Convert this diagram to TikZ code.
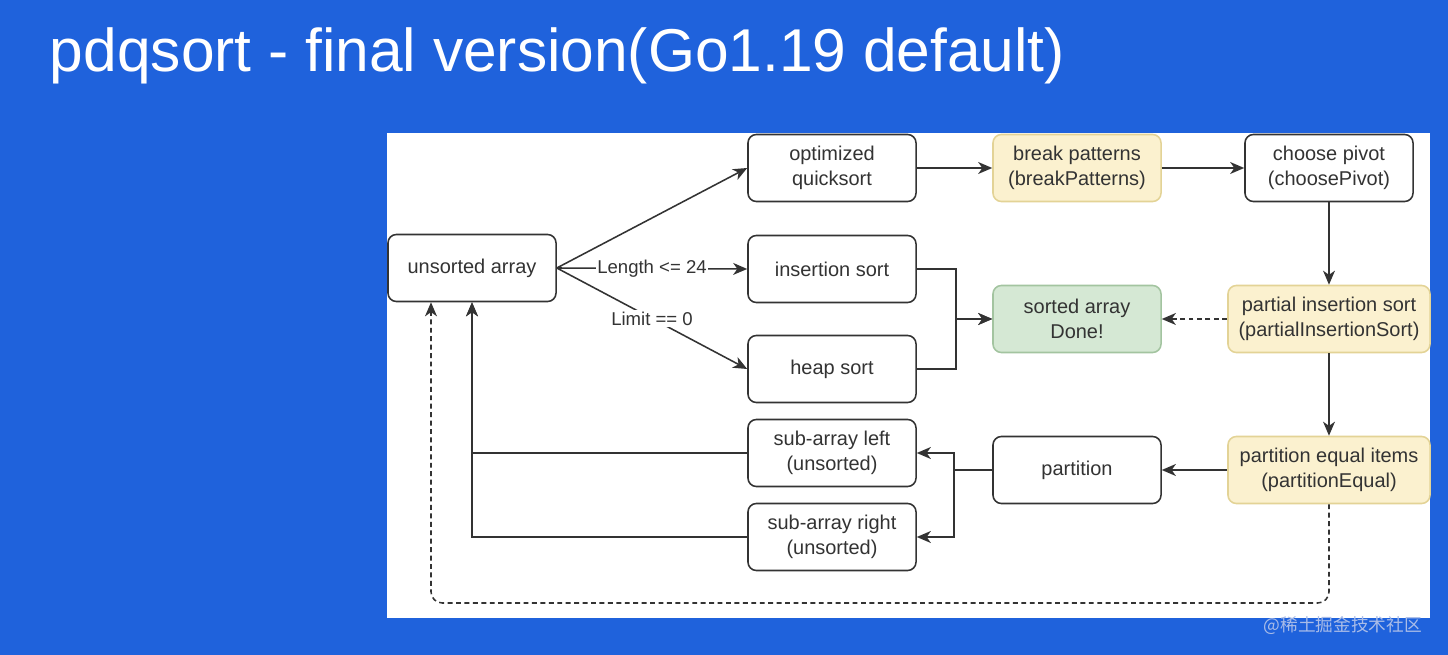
\documentclass[tikz,border=0pt]{standalone}
\usepackage{fontspec}
\setmainfont{Liberation Sans}
\newfontfamily\cjkfont{Noto Sans CJK SC}
\usetikzlibrary{arrows.meta,calc}
\definecolor{bg}{HTML}{1F62DC}
\definecolor{linec}{HTML}{333333}
\definecolor{txt}{HTML}{333333}
\definecolor{yelfill}{HTML}{FBF1CF}
\definecolor{yelline}{HTML}{E3D396}
\definecolor{grnfill}{HTML}{D5E8D4}
\definecolor{grnline}{HTML}{A3C4A0}
\definecolor{wm}{HTML}{A9BCE8}
\begin{document}
\begin{tikzpicture}[x=0.025cm,y=-0.025cm,
  box/.style={draw=linec,line width=1.1pt,rounded corners=6pt,fill=white,
    minimum width=4.2cm,minimum height=1.675cm,inner sep=0pt,align=center,
    font=\fontsize{14.2}{17.8}\selectfont,text=txt},
  yel/.style={fill=yelfill,draw=yelline},
  grn/.style={fill=grnfill,draw=grnline},
  arr/.style={draw=linec,line width=1.1pt,-{Stealth[length=10pt,width=8.5pt,inset=3pt]}},
  lbl/.style={fill=white,inner sep=1pt,text=txt,font=\fontsize{13.2}{15}\selectfont},
  dsh/.style={dash pattern=on 3.5pt off 2.5pt}]
\fill[bg] (0,0) rectangle (1448,655);
\useasboundingbox (0,0) rectangle (1448,655);
\fill[white] (387,133) rectangle (1430,618);
\node[anchor=base west,text=white,font=\fontsize{43}{50}\selectfont] (title) at (45,72) {pdqsort - final version(Go1.19 default)};
\node[box] (ua) at (472,268) {unsorted array};
\node[box] (oq) at (832,168) {optimized\\quicksort};
\node[box] (is) at (832,269) {insertion sort};
\node[box] (hs) at (832,369) {heap sort};
\node[box] (sl) at (832,453) {sub-array left\\(unsorted)};
\node[box] (sr) at (832,537) {sub-array right\\(unsorted)};
\node[box,yel] (bp) at (1077,168) {break patterns\\(breakPatterns)};
\node[box,grn] (sa) at (1077,319) {sorted array\\Done!};
\node[box] (pt) at (1077,470) {partition};
\node[box] (cp) at (1329,168) {choose pivot\\(choosePivot)};
\node[box,yel,minimum width=5.05cm] (pi) at (1329,319) {partial insertion sort\\(partialInsertionSort)};
\node[box,yel,minimum width=5.05cm] (pe) at (1329,470) {partition equal items\\(partitionEqual)};
\draw[arr] (ua.east) -- (oq.west);
\draw[arr] (ua.east) -- node[lbl]{Length <= 24} (is.west);
\draw[arr] (ua.east) -- node[lbl]{Limit == 0} (hs.west);
\draw[arr] (oq) -- (bp);
\draw[arr] (bp) -- (cp);
\draw[arr] (cp) -- (pi);
\draw[arr] (pi) -- (pe);
\draw[arr] (pe) -- (pt);
\draw[arr,dsh] (pi) -- (sa);
\draw[arr] (is.east) -- ++(39,0) |- (sa.west);
\draw[arr] (hs.east) -- ++(39,0) |- (sa.west);
\draw[arr] (pt.west) -- ++(-38,0) |- (sl.east);
\draw[arr] (pt.west) -- ++(-38,0) |- (sr.east);
\draw[arr] (sl.west) -| (ua.south);
\draw[arr] (sr.west) -| (ua.south);
\coordinate (dl) at (431,603);
\draw[arr,dsh,rounded corners=8pt] (pe.south) |- (dl) -- (dl |- ua.south);
\node[anchor=east,text=wm,font=\cjkfont\fontsize{12.6}{15}\selectfont] (wmk) at (1427,626) {@稀土掘金技术社区};
\end{tikzpicture}
\end{document}
